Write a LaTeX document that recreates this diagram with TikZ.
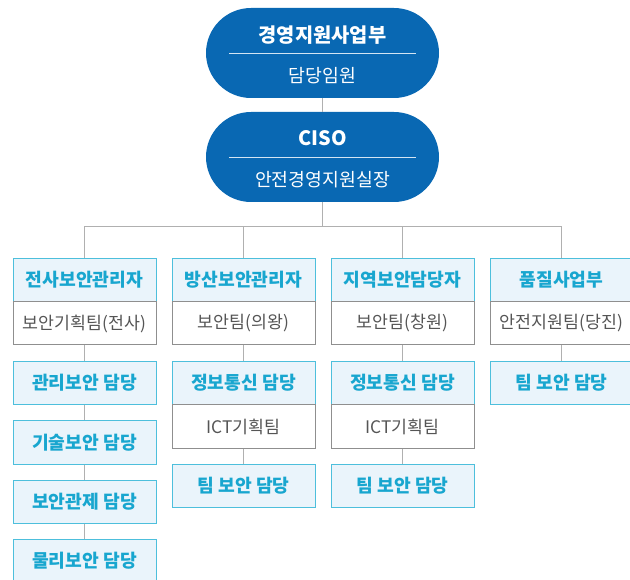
\documentclass[tikz,border=0pt]{standalone}
\usepackage{fontspec}
\setmainfont{Noto Sans CJK KR}
\definecolor{topblue}{HTML}{0968B3}
\definecolor{hdrfill}{HTML}{EAF4FB}
\definecolor{hdrline}{HTML}{4DBFDC}
\definecolor{hdrtext}{HTML}{18A6CF}
\definecolor{subline}{HTML}{8F8F8F}
\definecolor{subtext}{HTML}{555555}
\definecolor{connline}{HTML}{B0B0B0}
\definecolor{divline}{HTML}{D4E5F3}
\tikzset{
  topbox/.style={draw=none, fill=topblue, minimum width=233pt, minimum height=90pt, rounded corners=45pt, inner sep=0pt},
  toptitle/.style={text=white, font=\bfseries\fontsize{19.8}{22}\selectfont, inner sep=0pt},
  topsub/.style={text=white, font=\fontsize{18.3}{21}\selectfont, inner sep=0pt},
  divider/.style={draw=divline, line width=1pt},
  hdr/.style={draw=hdrline, fill=hdrfill, line width=1pt, minimum width=143pt, minimum height=43pt, inner sep=0pt, text=hdrtext, font=\bfseries\fontsize{18.2}{21}\selectfont},
  subbox/.style={draw=subline, fill=white, line width=1pt, minimum width=143pt, minimum height=43pt, inner sep=0pt, text=subtext, font=\fontsize{17.3}{20}\selectfont},
  conn/.style={draw=connline, line width=1pt},
}
\begin{document}
\begin{tikzpicture}[x=1pt,y=-1pt]
\useasboundingbox (0,0) rectangle (630,580);
% top boxes
\node[topbox] (exec) at (322.5,53) {};
\node[toptitle] (exect) at (322.5,35) {경영지원사업부};
\node[topsub] (execs) at (322.5,75.5) {담당임원};
\draw[divider] (229,53.5) -- (416,53.5);
\node[topbox] (ciso) at (322.5,157) {};
\node[toptitle] (cisot) at (322.5,138) {CISO};
\node[topsub] (cisos) at (322.5,179.5) {안전경영지원실장};
\draw[divider] (229,157.5) -- (416,157.5);
% column 1
\node[hdr] (h1) at (84.5,280) {전사보안관리자};
\node[subbox] (s1) at (84.5,323.5) {보안기획팀(전사)};
\node[hdr] (a1) at (84.5,383) {관리보안 담당};
\node[hdr] (a2) at (84.5,442.5) {기술보안 담당};
\node[hdr] (a3) at (84.5,501.5) {보안관제 담당};
\node[hdr] (a4) at (84.5,560.5) {물리보안 담당};
% column 2
\node[hdr] (h2) at (243.5,280) {방산보안관리자};
\node[subbox] (s2) at (243.5,323.5) {보안팀(의왕)};
\node[hdr] (b1) at (243.5,383) {정보통신 담당};
\node[subbox] (b1s) at (243.5,426.5) {ICT기획팀};
\node[hdr] (b2) at (243.5,486) {팀 보안 담당};
% column 3
\node[hdr] (h3) at (402.5,280) {지역보안담당자};
\node[subbox] (s3) at (402.5,323.5) {보안팀(창원)};
\node[hdr] (c1) at (402.5,383) {정보통신 담당};
\node[subbox] (c1s) at (402.5,426.5) {ICT기획팀};
\node[hdr] (c2) at (402.5,486) {팀 보안 담당};
% column 4
\node[hdr] (h4) at (561.5,280) {품질사업부};
\node[subbox] (s4) at (561.5,323.5) {안전지원팀(당진)};
\node[hdr] (d1) at (561.5,383) {팀 보안 담당};
% connectors
\draw[conn] (exec.south) -- (ciso.north);
\draw[conn] (ciso.south) -- (322.5,227) coordinate (bus);
\foreach \h in {h1,h2,h3,h4} { \draw[conn] (bus) -| (\h.north); }
\draw[conn] (s1.south) -- (a1.north);
\draw[conn] (a1.south) -- (a2.north);
\draw[conn] (a2.south) -- (a3.north);
\draw[conn] (a3.south) -- (a4.north);
\draw[conn] (s2.south) -- (b1.north);
\draw[conn] (b1s.south) -- (b2.north);
\draw[conn] (s3.south) -- (c1.north);
\draw[conn] (c1s.south) -- (c2.north);
\draw[conn] (s4.south) -- (d1.north);
\end{tikzpicture}
\end{document}
